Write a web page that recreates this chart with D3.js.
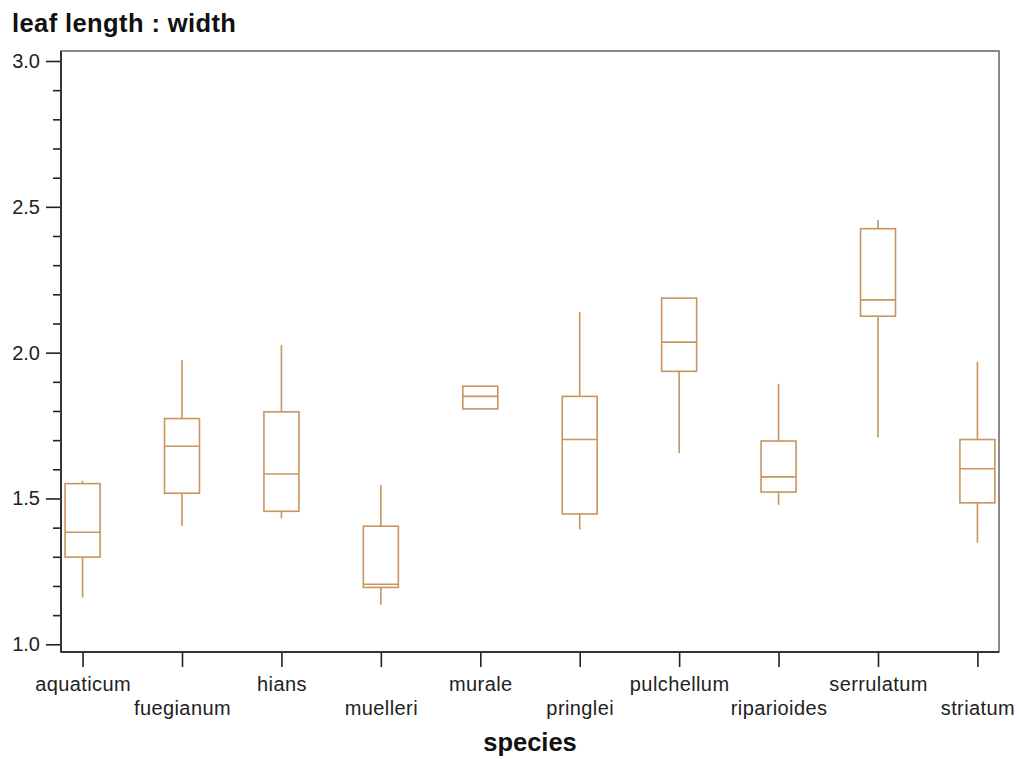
<!DOCTYPE html>
<html>
<head>
<meta charset="utf-8">
<script src="https://cdn.jsdelivr.net/npm/d3@7"></script>
<style>
  body { margin: 0; background: #fff; }
  svg { display: block; font-family: "Liberation Sans", Arial, sans-serif; }
</style>
</head>
<body>
<svg id="chart" width="1019" height="759"></svg>
<script>
// box plot data
const species = ["aquaticum", "fuegianum", "hians", "muelleri", "murale",
                 "pringlei", "pulchellum", "riparioides", "serrulatum", "striatum"];
const whiskerLow  = [1.160, 1.406, 1.432, 1.136, 1.807, 1.394, 1.655, 1.478, 1.710, 1.348];
const quartile1   = [1.299, 1.518, 1.456, 1.195, 1.807, 1.447, 1.936, 1.522, 2.125, 1.485];
const medians     = [1.384, 1.679, 1.584, 1.206, 1.850, 1.702, 2.036, 1.574, 2.181, 1.602];
const quartile3   = [1.551, 1.774, 1.797, 1.405, 1.885, 1.850, 2.187, 1.697, 2.425, 1.702];
const whiskerHigh = [1.561, 1.975, 2.026, 1.546, 1.885, 2.140, 2.187, 1.893, 2.455, 1.969];
const yMajorTicks = [1.0, 1.5, 2.0, 2.5, 3.0];

//Plot parameters
const plotLeft = 61, plotRight = 999, plotTop = 51, plotBottom = 652;
const boxColor = "#c8955f";
const boxHalf = 17.5;

const svg = d3.select("#chart");

const xScale = d3.scalePoint()
                 .domain(species)
                 .range([plotLeft, plotRight])
                 .padding(0.217);

const yScale = d3.scaleLinear()
                 .domain([1, 3])
                 .range([644.3, 61]);

//Frame
svg.append("rect")
   .attr("x", plotLeft).attr("y", plotTop)
   .attr("width", plotRight - plotLeft).attr("height", plotBottom - plotTop)
   .attr("fill", "none")
   .attr("stroke", "#6e6e6e")
   .attr("stroke-width", 1.6);

//Minor y ticks
const minorTicks = d3.range(10, 31).map(v => v / 10).filter(v => Math.round(v * 10) % 5 !== 0);
svg.append("g")
   .attr("transform", "translate(" + plotLeft + ",0)")
   .call(d3.axisLeft(yScale).tickValues(minorTicks).tickSize(8).tickFormat(""))
   .call(g => g.select(".domain").remove())
   .call(g => g.selectAll("line").attr("stroke", "#222").attr("stroke-width", 1.6));

//Major y axis
svg.append("g")
   .attr("transform", "translate(" + plotLeft + ",0)")
   .call(d3.axisLeft(yScale).tickValues(yMajorTicks).tickSize(15).tickPadding(6).tickFormat(d3.format(".1f")))
   .call(g => g.select(".domain").remove())
   .call(g => g.selectAll("line").attr("stroke", "#222").attr("stroke-width", 1.6))
   .call(g => g.selectAll("text")
               .attr("fill", "#222")
               .attr("font-size", 20)
               .attr("font-family", "Liberation Sans, Arial, sans-serif"));

svg.append("line")
   .attr("x1", plotLeft).attr("x2", plotLeft)
   .attr("y1", plotTop).attr("y2", plotBottom)
   .attr("stroke", "#333").attr("stroke-width", 2);

//X axis
svg.append("g")
   .attr("transform", "translate(0," + plotBottom + ")")
   .call(d3.axisBottom(xScale).tickSize(15))
   .call(g => g.select(".domain").remove())
   .call(g => g.selectAll("line").attr("stroke", "#222").attr("stroke-width", 1.6))
   .call(g => g.selectAll("text")
               .attr("fill", "#222")
               .attr("font-size", 20)
               .attr("letter-spacing", 0.4)
               .attr("font-family", "Liberation Sans, Arial, sans-serif")
               .attr("dy", 0)
               .attr("y", (d, i) => i % 2 ? 63 : 39));

svg.append("line")
   .attr("x1", plotLeft).attr("x2", plotRight)
   .attr("y1", plotBottom).attr("y2", plotBottom)
   .attr("stroke", "#333").attr("stroke-width", 2);

//Boxes
const rows = species.map((s, i) => ({
  s, lo: whiskerLow[i], q1: quartile1[i], med: medians[i], q3: quartile3[i], hi: whiskerHigh[i]
}));

const box = svg.append("g")
   .attr("stroke", boxColor)
   .attr("stroke-width", 1.6)
   .attr("fill", "none")
   .selectAll("g")
   .data(rows)
   .enter()
   .append("g");

box.append("line")
   .attr("x1", d => xScale(d.s)).attr("x2", d => xScale(d.s))
   .attr("y1", d => yScale(d.hi)).attr("y2", d => yScale(d.q3));

box.append("line")
   .attr("x1", d => xScale(d.s)).attr("x2", d => xScale(d.s))
   .attr("y1", d => yScale(d.q1)).attr("y2", d => yScale(d.lo));

box.append("rect")
   .attr("x", d => xScale(d.s) - boxHalf)
   .attr("y", d => yScale(d.q3))
   .attr("width", boxHalf * 2)
   .attr("height", d => yScale(d.q1) - yScale(d.q3));

box.append("line")
   .attr("x1", d => xScale(d.s) - boxHalf).attr("x2", d => xScale(d.s) + boxHalf)
   .attr("y1", d => yScale(d.med)).attr("y2", d => yScale(d.med));

//Titles
svg.append("text")
   .attr("x", 12).attr("y", 32)
   .attr("font-size", 25.5)
   .attr("letter-spacing", 0.4)
   .attr("font-weight", "bold")
   .attr("fill", "#111")
   .text("leaf length : width");

svg.append("text")
   .attr("x", (plotLeft + plotRight) / 2).attr("y", 751)
   .attr("text-anchor", "middle")
   .attr("font-size", 25.5)
   .attr("font-weight", "bold")
   .attr("fill", "#111")
   .text("species");
</script>
</body>
</html>
